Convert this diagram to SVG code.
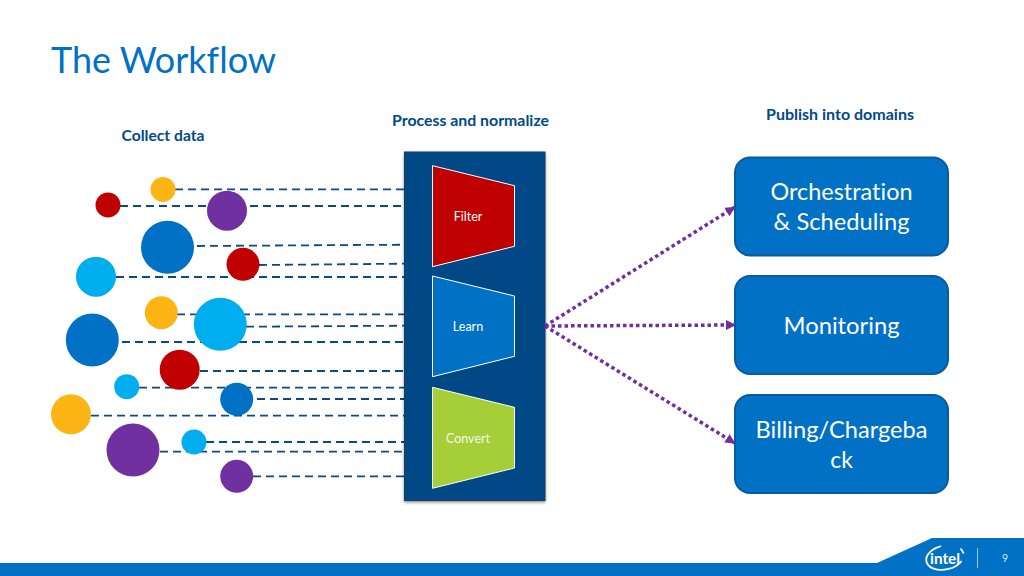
<svg xmlns="http://www.w3.org/2000/svg" width="1024" height="576" viewBox="0 0 1024 576">
<style>
text{font-family:"Lato","Open Sans","Liberation Sans",sans-serif;font-variant-ligatures:none}
.h{font-size:14.5px;font-weight:700;fill:#004a86;text-anchor:middle}
.t{font-size:12.5px;fill:#fff;text-anchor:middle}
.b{font-size:23px;fill:#fff;text-anchor:middle}
.box{fill:#0071c5;stroke:#0a5a9c;stroke-width:2}
.trap{stroke:#fff;stroke-width:1}
.d{stroke:#0b4a80;stroke-width:1.800;stroke-dasharray:8 5;fill:none}
.a{stroke:#6f2f9f;stroke-width:3.500;stroke-dasharray:3.500 3;fill:none;marker-end:url(#ah)}
.y{fill:#fdb515}.r{fill:#c00000}.p{fill:#7030a0}.u{fill:#0071c5}.c{fill:#00aeef}
</style>
<defs>
<marker id="ah" viewBox="0 0 10 10" refX="9" refY="5" markerWidth="10" markerHeight="10" markerUnits="userSpaceOnUse" orient="auto"><path d="M0 0L10 5L0 10Z" fill="#6f2f9f"/></marker>
<filter id="sh" x="-5%" y="-5%" width="110%" height="110%"><feDropShadow dx="0" dy="1.500" stdDeviation="1.500" flood-color="#000" flood-opacity=".45"/></filter>
</defs>
<rect width="1024" height="576" fill="#fff"/>
<text x="51" y="73" font-size="36" fill="#0071c5" textLength="225" lengthAdjust="spacingAndGlyphs">The Workflow</text>
<text class="h" x="163" y="141" textLength="83" lengthAdjust="spacingAndGlyphs">Collect data</text>
<text class="h" x="470.500" y="126" textLength="157" lengthAdjust="spacingAndGlyphs">Process and normalize</text>
<text class="h" x="840" y="120" textLength="148" lengthAdjust="spacingAndGlyphs">Publish into domains</text>
<g id="connectors">
<path class="d" d="M175 189.300H404M120 206H404M197 246L404 244.700M259 265L404 263.700M116 277H404M177 314.300H404M246 326.700L404 325.700M122 342H404M200 371H404M139 387.700H404M257 399H404M91 415.700H404M206 442H404M160 451.700H404M253 476.300H404"/>
</g>
<g id="circles">
<circle id="n1" class="y" cx="163" cy="189.500" r="12.500"/>
<circle id="n2" class="r" cx="108" cy="205" r="12.500"/>
<circle id="n3" class="p" cx="227" cy="210.700" r="20"/>
<circle id="n4" class="u" cx="167.500" cy="247.300" r="26.500"/>
<circle id="n5" class="r" cx="243" cy="264.300" r="16.500"/>
<circle id="n6" class="c" cx="96" cy="276.700" r="20"/>
<circle id="n7" class="y" cx="161.300" cy="312.700" r="16.500"/>
<circle id="n8" class="c" cx="220.300" cy="324.300" r="26.500"/>
<circle id="n9" class="u" cx="92.300" cy="340" r="26.500"/>
<circle id="n10" class="r" cx="179.700" cy="369.700" r="20"/>
<circle id="n11" class="c" cx="126.700" cy="386.700" r="12.500"/>
<circle id="n12" class="u" cx="236.700" cy="399.300" r="16.500"/>
<circle id="n13" class="y" cx="71" cy="414.300" r="20"/>
<circle id="n14" class="p" cx="133" cy="450" r="26.500"/>
<circle id="n15" class="c" cx="194" cy="442" r="12.500"/>
<circle id="n16" class="p" cx="236.700" cy="476.300" r="16.500"/>
</g>
<g id="panel"><rect x="404.500" y="152" width="140.500" height="348.500" fill="#004a86" stroke="#1d3a55" stroke-width="1" filter="url(#sh)"/></g>
<g id="filter"><polygon class="trap" fill="#c00000" points="432.500,165.700 514.500,185.700 514.500,246.300 432.500,266.700"/><text class="t" x="468" y="221">Filter</text></g>
<g id="learn"><polygon class="trap" fill="#0071c5" points="432.500,276 514.500,296 514.500,356.300 432.500,376.700"/><text class="t" x="468" y="331">Learn</text></g>
<g id="convert"><polygon class="trap" fill="#a6ce39" points="432.500,387.300 514.500,407.300 514.500,468 432.500,488.300"/><text class="t" x="468" y="443" fill-opacity=".9">Convert</text></g>
<g id="arrows">
<path class="a" d="M545 326L734.500 207.300"/>
<path class="a" d="M545 326L735 325"/>
<path class="a" d="M545 326L734.500 443"/>
</g>
<g id="orchestration"><rect class="box" x="735" y="157.500" width="213" height="98" rx="15"/><text class="b" x="841.500" y="200" textLength="142" lengthAdjust="spacingAndGlyphs">Orchestration</text><text class="b" x="841.500" y="230" textLength="136" lengthAdjust="spacingAndGlyphs">&amp; Scheduling</text></g>
<g id="monitoring"><rect class="box" x="735" y="276" width="213" height="98" rx="15"/><text class="b" x="841.500" y="334" textLength="116" lengthAdjust="spacingAndGlyphs">Monitoring</text></g>
<g id="billing"><rect class="box" x="735" y="395" width="213" height="98" rx="15"/><text class="b" x="841.500" y="438" textLength="172" lengthAdjust="spacingAndGlyphs">Billing/Chargeba</text><text class="b" x="841.500" y="468">ck</text></g>
<g id="footer">
<polygon fill="#0071c5" points="0,563 877,563 932,538 1024,538 1024,576 0,576"/>
<ellipse cx="945" cy="557.500" rx="19" ry="12" fill="none" stroke="#fff" stroke-width="1.800" transform="rotate(-12 945 557.500)" stroke-dasharray="64 20" stroke-dashoffset="-8"/>
<text x="945" y="564" font-size="16" font-weight="700" fill="#fff" text-anchor="middle" textLength="30" lengthAdjust="spacingAndGlyphs">intel</text>
<line x1="977.500" y1="548" x2="977.500" y2="568" stroke="#9cc9ea" stroke-width="1"/>
<text x="1005" y="562" font-size="10.500" fill="#d5e8f5" text-anchor="middle">9</text>
</g>
</svg>
